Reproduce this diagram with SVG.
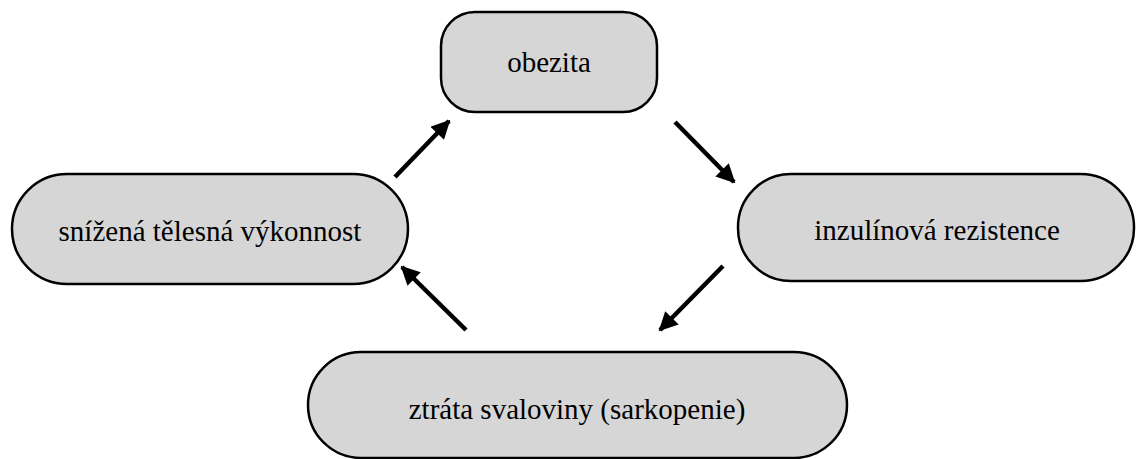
<svg xmlns="http://www.w3.org/2000/svg" width="1136" height="459" viewBox="0 0 1136 459">
<style>
.node rect{fill:#d6d6d6;stroke:#000;stroke-width:2.5}
.node text{font-family:"Liberation Serif","Times New Roman","DejaVu Serif",serif;font-size:29px;fill:#000;text-anchor:middle}
.conn line{stroke:#000;stroke-width:4.5}
</style>
<defs>
<marker id="ah" viewBox="0 0 10 10" refX="9" refY="5" markerWidth="4.6" markerHeight="4.2" markerUnits="strokeWidth" orient="auto">
<path d="M0,0 L10,5 L0,10 z" fill="#000"/>
</marker>
</defs>
<rect width="1136" height="459" fill="#fff"/>
<g id="n-obezita" class="node">
<rect x="441" y="12" width="216" height="100" rx="34" ry="34"/>
<text x="549" y="72">obezita</text>
</g>
<g id="n-inzulin" class="node">
<rect x="738" y="174" width="396" height="107" rx="53" ry="53"/>
<text x="937" y="240">inzulínová rezistence</text>
</g>
<g id="n-sarko" class="node">
<rect x="308" y="352" width="539" height="106" rx="53" ry="53"/>
<text x="577" y="419">ztráta svaloviny (sarkopenie)</text>
</g>
<g id="n-vykon" class="node">
<rect x="12" y="174" width="396" height="110" rx="55" ry="55"/>
<text x="210" y="241">snížená tělesná výkonnost</text>
</g>
<g id="connectors" class="conn">
<line x1="395" y1="177" x2="449" y2="121" marker-end="url(#ah)"/>
<line x1="675" y1="122" x2="734" y2="182" marker-end="url(#ah)"/>
<line x1="723" y1="266" x2="660" y2="330" marker-end="url(#ah)"/>
<line x1="466" y1="330" x2="402" y2="267" marker-end="url(#ah)"/>
</g>
</svg>
